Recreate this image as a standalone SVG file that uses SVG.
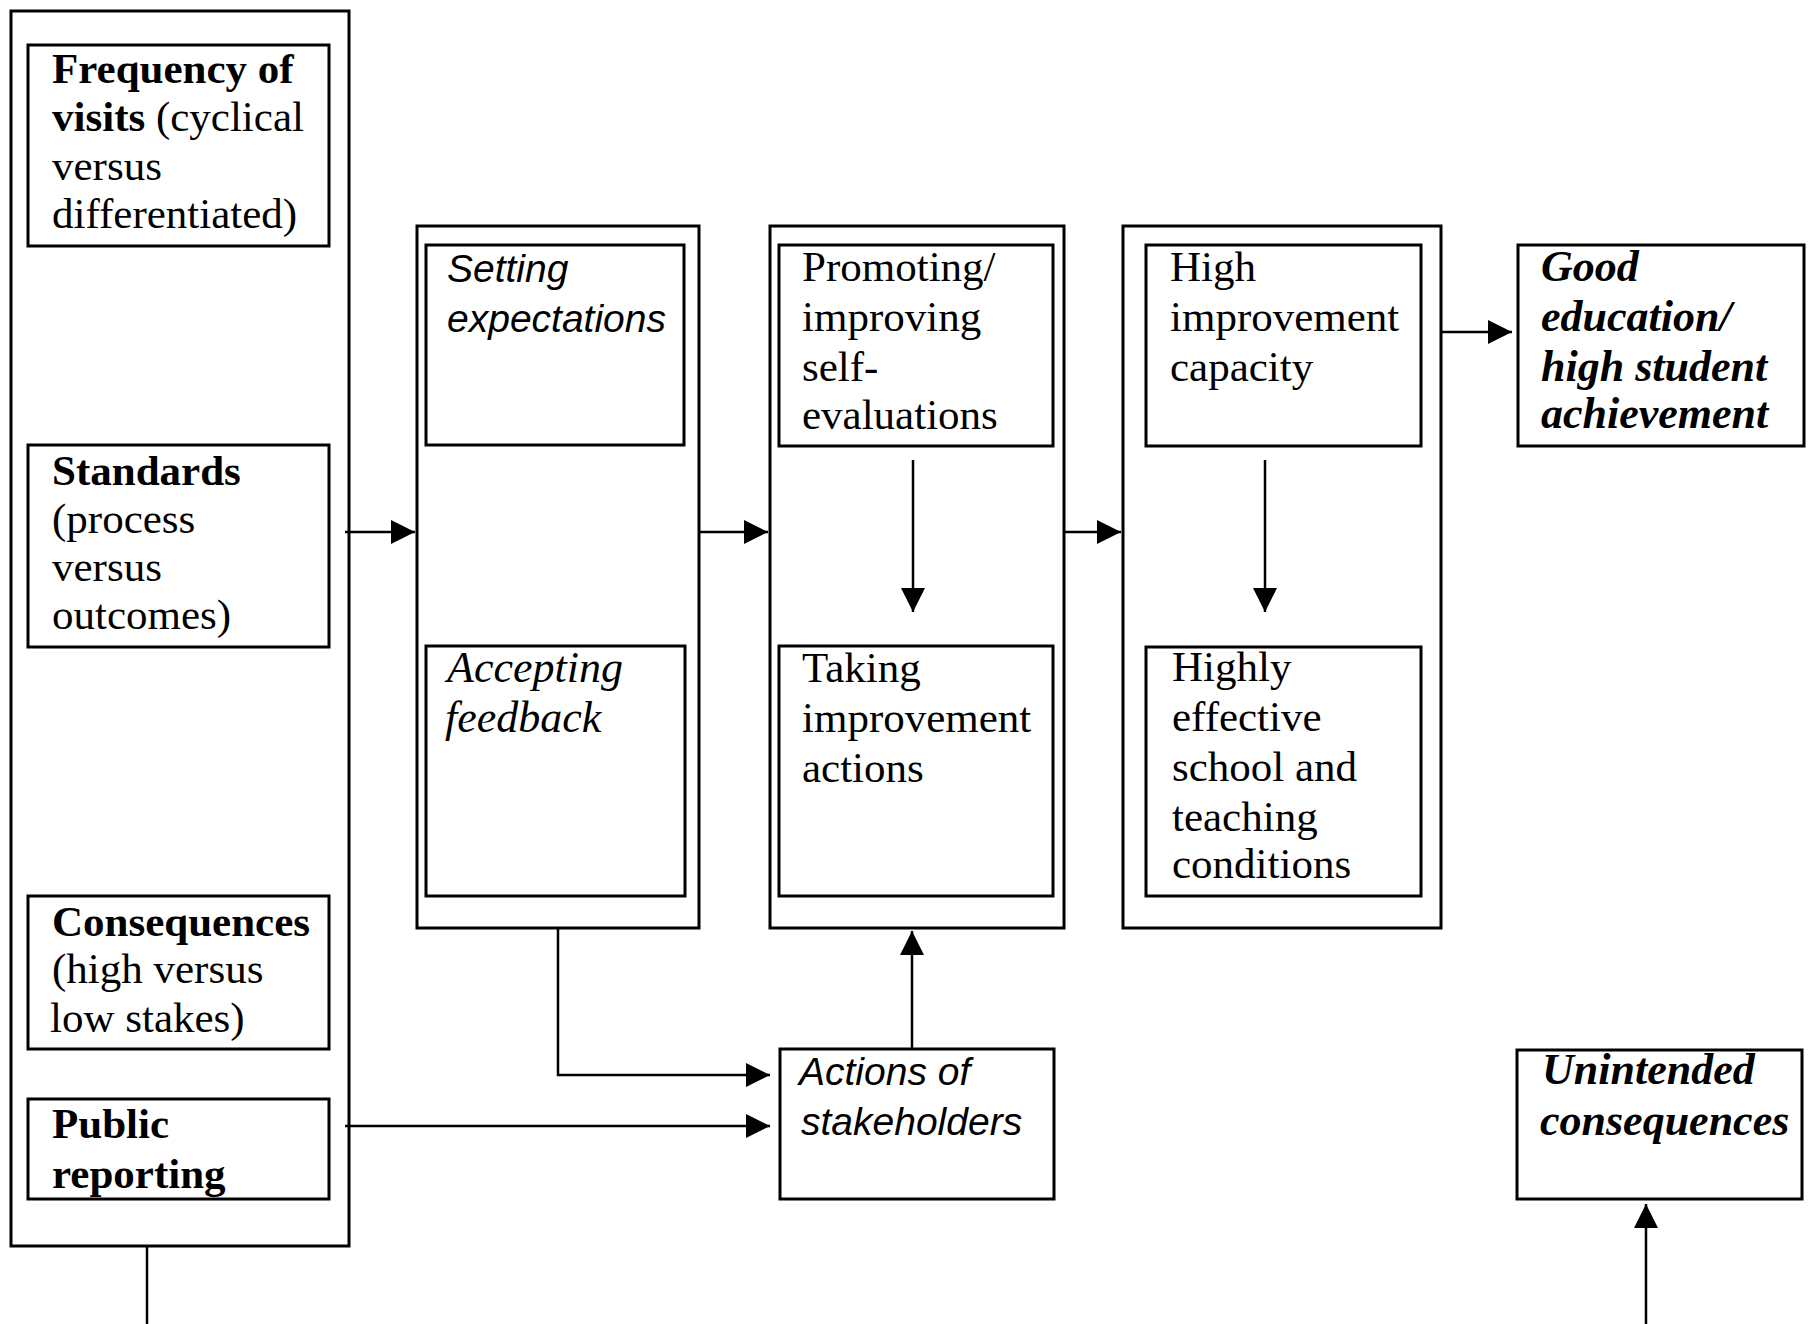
<svg xmlns="http://www.w3.org/2000/svg" width="1812" height="1324" viewBox="0 0 1812 1324">
<style>
.box{fill:#fff;stroke:#000;stroke-width:3}
.t{font-family:"Liberation Serif","Times New Roman",serif;font-size:43px;fill:#000}
.b{font-weight:bold}
.si{font-family:"Liberation Sans",Arial,sans-serif;font-style:italic;font-size:39px;fill:#000}
.ri{font-family:"Liberation Serif","Times New Roman",serif;font-style:italic;font-size:44px;fill:#000}
.bi{font-family:"Liberation Serif","Times New Roman",serif;font-style:italic;font-weight:bold;font-size:44px;fill:#000}
.c{fill:none;stroke:#000;stroke-width:2.5}
</style>
<defs>
<marker id="ah" markerUnits="userSpaceOnUse" markerWidth="24" markerHeight="24" refX="24" refY="12" orient="auto">
<path d="M0,0 L24,12 L0,24 z" fill="#000"/>
</marker>
</defs>
<rect width="1812" height="1324" fill="#fff"/>

<g id="inputs-container"><rect class="box" x="11" y="11" width="338" height="1235"/></g>
<g id="frequency">
<rect class="box" x="28" y="45" width="301" height="201"/>
<text class="t" x="52" y="83"><tspan class="b">Frequency of</tspan></text>
<text class="t" x="52" y="131"><tspan class="b">visits</tspan> (cyclical</text>
<text class="t" x="52" y="180">versus</text>
<text class="t" x="52" y="228">differentiated)</text>
</g>
<g id="standards">
<rect class="box" x="28" y="445" width="301" height="202"/>
<text class="t b" x="52" y="485">Standards</text>
<text class="t" x="52" y="533">(process</text>
<text class="t" x="52" y="581">versus</text>
<text class="t" x="52" y="629">outcomes)</text>
</g>
<g id="consequences">
<rect class="box" x="28" y="896" width="301" height="153"/>
<text class="t b" x="52" y="936">Consequences</text>
<text class="t" x="52" y="983">(high versus</text>
<text class="t" x="50" y="1032">low stakes)</text>
</g>
<g id="public-reporting">
<rect class="box" x="28" y="1099" width="301" height="100"/>
<text class="t b" x="52" y="1138">Public</text>
<text class="t b" x="52" y="1188">reporting</text>
</g>

<g id="container1"><rect class="box" x="417" y="226" width="282" height="702"/></g>
<g id="setting-expectations">
<rect class="box" x="426" y="245" width="258" height="200"/>
<text class="si" x="447" y="282">Setting</text>
<text class="si" x="447" y="332">expectations</text>
</g>
<g id="accepting-feedback">
<rect class="box" x="426" y="646" width="259" height="250"/>
<text class="ri" x="447" y="682">Accepting</text>
<text class="ri" x="445" y="732">feedback</text>
</g>

<g id="container2"><rect class="box" x="770" y="226" width="294" height="702"/></g>
<g id="promoting">
<rect class="box" x="779" y="245" width="274" height="201"/>
<text class="t" x="802" y="281">Promoting/</text>
<text class="t" x="802" y="331">improving</text>
<text class="t" x="802" y="381">self-</text>
<text class="t" x="802" y="429">evaluations</text>
</g>
<g id="taking-actions">
<rect class="box" x="779" y="646" width="274" height="250"/>
<text class="t" x="802" y="682">Taking</text>
<text class="t" x="802" y="732">improvement</text>
<text class="t" x="802" y="782">actions</text>
</g>

<g id="container3"><rect class="box" x="1123" y="226" width="318" height="702"/></g>
<g id="high-capacity">
<rect class="box" x="1146" y="245" width="275" height="201"/>
<text class="t" x="1170" y="281">High</text>
<text class="t" x="1170" y="331">improvement</text>
<text class="t" x="1170" y="381">capacity</text>
</g>
<g id="highly-effective">
<rect class="box" x="1146" y="647" width="275" height="249"/>
<text class="t" x="1172" y="681">Highly</text>
<text class="t" x="1172" y="731">effective</text>
<text class="t" x="1172" y="781">school and</text>
<text class="t" x="1172" y="831">teaching</text>
<text class="t" x="1172" y="878">conditions</text>
</g>

<g id="good-education">
<rect class="box" x="1518" y="245" width="286" height="201"/>
<text class="bi" x="1541" y="281">Good</text>
<text class="bi" x="1541" y="331">education/</text>
<text class="bi" x="1541" y="381">high student</text>
<text class="bi" x="1541" y="428">achievement</text>
</g>

<g id="actions-stakeholders">
<rect class="box" x="780" y="1049" width="274" height="150"/>
<text class="si" x="799" y="1085">Actions of</text>
<text class="si" x="801" y="1135">stakeholders</text>
</g>

<g id="unintended">
<rect class="box" x="1517" y="1050" width="285" height="149"/>
<text class="bi" x="1542" y="1084">Unintended</text>
<text class="bi" x="1540" y="1135">consequences</text>
</g>

<g id="connectors">
<path class="c" d="M345,532 H415" marker-end="url(#ah)"/>
<path class="c" d="M699,532 H768" marker-end="url(#ah)"/>
<path class="c" d="M1064,532 H1121" marker-end="url(#ah)"/>
<path class="c" d="M1441,332 H1512" marker-end="url(#ah)"/>
<path class="c" d="M913,460 V612" marker-end="url(#ah)"/>
<path class="c" d="M1265,460 V612" marker-end="url(#ah)"/>
<path class="c" d="M558,928 V1075 H770" marker-end="url(#ah)"/>
<path class="c" d="M345,1126 H770" marker-end="url(#ah)"/>
<path class="c" d="M912,1049 V931" marker-end="url(#ah)"/>
<path class="c" d="M147,1246 V1324"/>
<path class="c" d="M1646,1324 V1204" marker-end="url(#ah)"/>
</g>
</svg>
